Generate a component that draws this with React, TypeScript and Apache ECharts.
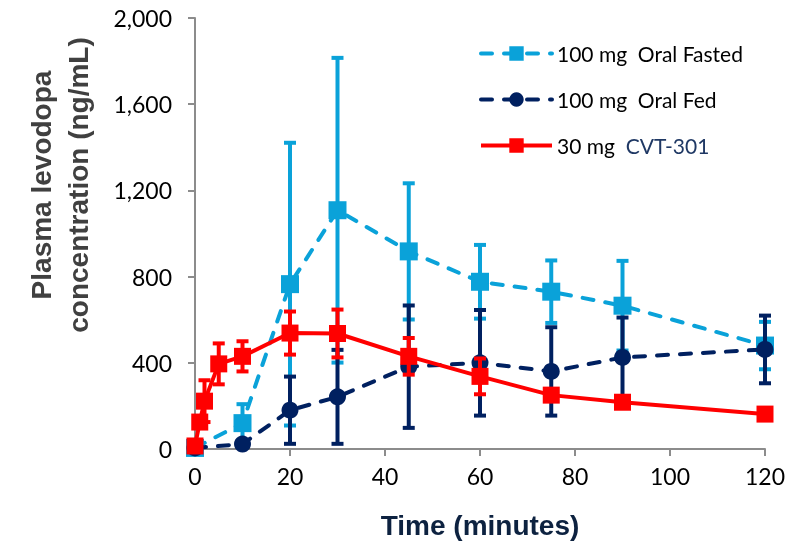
import React, { useEffect, useRef } from "react";
import * as echarts from "echarts";

const timesOral = [0, 10, 20, 30, 45, 60, 75, 90, 120];
const fastedMean = [5, 120, 765, 1108, 917, 776, 730, 665, 480];
const fastedSd = [0, 88, 656, 707, 316, 171, 145, 208, 110];
const fedMean = [5, 23, 180, 242, 382, 400, 360, 425, 462];
const fedSd = [0, 0, 156, 218, 284, 245, 205, 185, 157];
const timesCvt = [0, 1, 2, 5, 10, 20, 30, 45, 60, 75, 90, 120];
const cvtMean = [14, 125, 222, 395, 430, 538, 536, 430, 337, 250, 217, 162];
const cvtSd = [0, 0, 97, 95, 70, 100, 111, 85, 83, 0, 0, 0];
const yTicks = [0, 400, 800, 1200, 1600, 2000];

const C_FASTED = "#0aa2d9";
const C_FED = "#002060";
const C_CVT = "#ff0000";

function errData(times: number[], mean: number[], sd: number[]) {
  const out: number[][] = [];
  times.forEach((t, i) => {
    if (sd[i] > 0) out.push([t, mean[i] - sd[i], mean[i] + sd[i]]);
  });
  return out;
}

function errSeries(name: string, data: number[][], color: string, z: number) {
  return {
    type: "custom",
    name: name + "_err",
    z,
    clip: false,
    silent: true,
    data,
    encode: { x: 0, y: [1, 2] },
    renderItem: (params: any, api: any) => {
      const x = api.value(0);
      const lo = api.coord([x, api.value(1)]);
      const hi = api.coord([x, api.value(2)]);
      const h = 6;
      const st = { stroke: color, lineWidth: 4 };
      return {
        type: "group",
        children: [
          { type: "line", shape: { x1: lo[0], y1: lo[1], x2: hi[0], y2: hi[1] }, style: st },
          { type: "line", shape: { x1: hi[0] - h, y1: hi[1], x2: hi[0] + h, y2: hi[1] }, style: st },
          { type: "line", shape: { x1: lo[0] - h, y1: lo[1], x2: lo[0] + h, y2: lo[1] }, style: st },
        ],
      };
    },
  };
}

export default function App() {
  const ref = useRef<HTMLDivElement>(null);
  useEffect(() => {
    if (!ref.current) return;
    const chart = echarts.init(ref.current, undefined, { renderer: "svg" });
    const font = "Lato";
    const option: any = {
      animation: false,
      grid: { left: 195, right: 43, top: 18, bottom: 93 },
      legend: {
        orient: "vertical",
        left: 474,
        top: 38,
        itemWidth: 71,
        itemHeight: 18,
        itemGap: 25,
        lineStyle: { width: 4 },
        data: ["100 mg Oral Fasted", "100 mg Oral Fed", "30 mg CVT-301"],
        textStyle: {
          fontFamily: font,
          fontSize: 21,
          color: "#000",
          rich: {
            a: { fontFamily: font, fontSize: 21, color: "#000" },
            b: { fontFamily: font, fontSize: 21, color: "#1f3864" },
          },
        },
        formatter: (name: string) => {
          if (name === "30 mg CVT-301") return "{a|30 mg}  {b|CVT-301}";
          if (name === "100 mg Oral Fasted") return "{a|100 mg  Oral Fasted}";
          return "{a|100 mg  Oral Fed}";
        },
      },
      xAxis: {
        type: "value",
        min: 0,
        max: 120,
        interval: 20,
        name: "Time (minutes)",
        nameLocation: "middle",
        nameGap: 62,
        nameTextStyle: { fontFamily: "Liberation Sans", fontWeight: "bold", fontSize: 28, color: "#0d2240" },
        axisLine: { lineStyle: { color: "#8c8c8c", width: 2 } },
        axisTick: { show: true, length: 7, lineStyle: { color: "#8c8c8c", width: 2 } },
        axisLabel: { fontFamily: font, fontSize: 23, color: "#000", margin: 15 },
        splitLine: { show: false },
      },
      yAxis: {
        type: "value",
        min: 0,
        max: 2000,
        interval: 400,
        axisLine: { show: true, lineStyle: { color: "#8c8c8c", width: 2 } },
        axisTick: { show: true, length: 7, lineStyle: { color: "#8c8c8c", width: 2 } },
        axisLabel: {
          fontFamily: font,
          fontSize: 23,
          color: "#000",
          margin: 23,
          formatter: (v: number) => (yTicks.includes(v) ? v.toLocaleString("en-US") : ""),
        },
        splitLine: { show: false },
      },
      graphic: [
        {
          type: "text",
          x: 60,
          y: 185,
          rotation: Math.PI / 2,
          style: {
            text: "Plasma levodopa\nconcentration (ng/mL)",
            font: "bold 28px 'Liberation Sans'",
            fill: "#404040",
            textAlign: "center",
            textVerticalAlign: "middle",
            lineHeight: 37,
          },
        },
      ],
      series: [
        errSeries("fasted", errData(timesOral, fastedMean, fastedSd), C_FASTED, 1),
        {
          type: "line",
          name: "100 mg Oral Fasted",
          z: 2,
          data: timesOral.map((t, i) => [t, fastedMean[i]]),
          symbol: "rect",
          symbolSize: 18,
          itemStyle: { color: C_FASTED },
          lineStyle: { color: C_FASTED, width: 4, type: [11, 12], cap: "round" },
        },
        errSeries("fed", errData(timesOral, fedMean, fedSd), C_FED, 3),
        {
          type: "line",
          name: "100 mg Oral Fed",
          z: 4,
          data: timesOral.map((t, i) => [t, fedMean[i]]),
          symbol: "circle",
          symbolSize: 17,
          itemStyle: { color: C_FED },
          lineStyle: { color: C_FED, width: 4, type: [11, 12], cap: "round" },
        },
        errSeries("cvt", errData(timesCvt, cvtMean, cvtSd), C_CVT, 5),
        {
          type: "line",
          name: "30 mg CVT-301",
          z: 6,
          data: timesCvt.map((t, i) => [t, cvtMean[i]]),
          symbol: "rect",
          symbolSize: 17,
          itemStyle: { color: C_CVT },
          lineStyle: { color: C_CVT, width: 4 },
        },
      ],
    };
    chart.setOption(option);
    return () => chart.dispose();
  }, []);
  return (
    <div
      ref={ref}
      style={{ position: "fixed", left: 0, top: 0, width: 808, height: 544 }}
    />
  );
}
